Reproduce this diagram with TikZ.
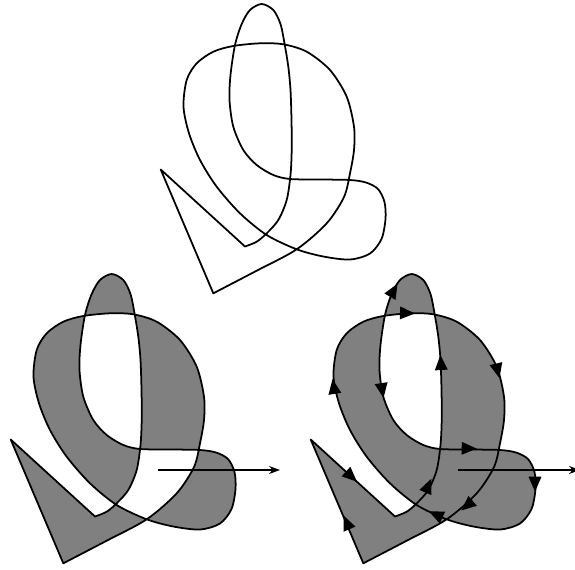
\documentclass[tikz,border=0pt]{standalone}
\usetikzlibrary{arrows.meta}

\definecolor{qgray}{RGB}{128,128,128}

\def\qcurve{(213.3,293.3) -- (160.7,169.5) -- plot[smooth] coordinates {
	(245,246.5) (256.7,241.7) (266.7,233.3) (278.3,220) (286.7,200) (290.5,175)
	(291.7,150) (291.5,120) (290.5,90) (288.3,66.7) (284.5,43.3) (280.5,24)
	(273.3,10) (261.7,4) (250,10) (241.7,24) (235,45) (230.5,75) (229.5,100)
	(233.3,126.7) (243.3,150) (256.7,165) (273.3,175) (290,179) (320,179.5)
	(350,180) (366,182.5) (378,189) (384.5,202) (385.5,219) (381.5,239) (370,253.5)
	(350,259.5) (323.3,256.5) (296.7,249.3) (266.7,235) (240,213.3) (216.7,186.7)
	(200,160) (189,133.3) (183.5,106.7) (186.7,80) (196.7,63.3) (213.3,51.7)
	(233.3,46) (260,43.3) (283.3,44.3) (306.7,51.7) (330,70) (346.7,96.7)
	(354,126.7) (354,150) (350,173.3) (344,197) (326.7,223.3) (296.7,249.3)
	(256.7,270.7) (213.3,293.3)} -- cycle}

\begin{document}
\begin{tikzpicture}[x=0.02cm, y=-0.02cm,
		curve/.style={line width=1pt, line join=round},
		ray/.style={line width=0.6pt, -{Stealth[length=2.2mm, width=1.6mm]}},
		tipmark/.style={line width=1pt, -{Triangle[length=3mm, width=2.5mm]}}]
	\useasboundingbox (0,0) rectangle (575,569);

	% outline
	\draw[curve] \qcurve;

	% even-odd
	\begin{scope}[shift={(-150,270)}]
		\filldraw[curve, even odd rule, fill=qgray] \qcurve;
		\draw[ray] (308,200) -- (430,200);
	\end{scope}

	% nonzero winding
	\begin{scope}[shift={(150,270)}]
		\filldraw[curve, nonzero rule, fill=qgray] \qcurve;
		\draw[ray] (308,200) -- (430,200);
		\draw[tipmark] (245,18) -- (247.5,13.7);
		\draw[tipmark] (260,43.3) -- (265,43.5);
		\draw[tipmark] (290.7,90) -- (290.4,85);
		\draw[tipmark] (232.7,123) -- (233.5,128);
		\draw[tipmark] (183.3,114) -- (182.5,109);
		\draw[tipmark] (348.3,103.3) -- (349.5,108.2);
		\draw[tipmark] (321.7,178.5) -- (326.7,178.6);
		\draw[tipmark] (385,216.7) -- (385,221.7);
		\draw[tipmark] (279.3,213.3) -- (281.3,208.7);
		\draw[tipmark] (315,237.3) -- (311.2,240.5);
		\draw[tipmark] (283.3,243.3) -- (278.8,241.2);
		\draw[tipmark] (203.3,208.3) -- (207,211.7);
		\draw[tipmark] (195.5,250) -- (193.5,245.4);
	\end{scope}
\end{tikzpicture}
\end{document}
